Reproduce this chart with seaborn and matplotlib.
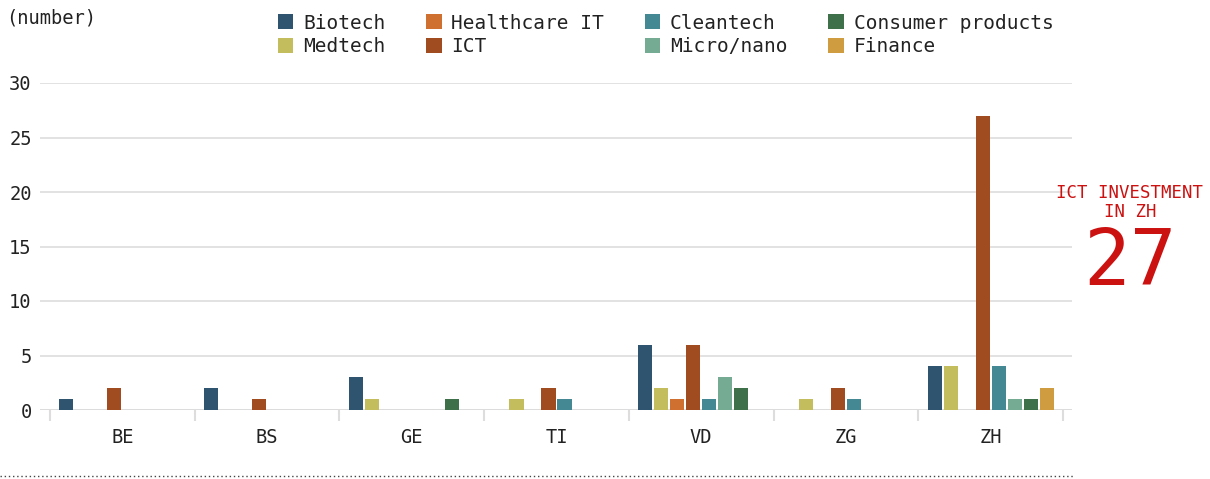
import numpy as np
import pandas as pd
import matplotlib.pyplot as plt
from matplotlib.lines import Line2D
import seaborn as sns

# data
cantons = ["BE", "BS", "GE", "TI", "VD", "ZG", "ZH"]
sectors = ["Biotech", "Medtech", "Healthcare IT", "ICT",
           "Cleantech", "Micro/nano", "Consumer products", "Finance"]
biotech = [1, 2, 3, 0, 6, 0, 4]
medtech = [0, 0, 1, 1, 2, 1, 4]
healthcare_it = [0, 0, 0, 0, 1, 0, 0]
ict = [2, 1, 0, 2, 6, 2, 27]
cleantech = [0, 0, 0, 1, 1, 1, 4]
micro_nano = [0, 0, 0, 0, 3, 0, 1]
consumer = [0, 0, 1, 0, 2, 0, 1]
finance = [0, 0, 0, 0, 0, 0, 2]
colors = ["#2f5470", "#c4bd5e", "#d07030", "#a04c20",
          "#438893", "#74ab92", "#3e704a", "#cf9d40"]

series = [biotech, medtech, healthcare_it, ict, cleantech, micro_nano, consumer, finance]
rows = []
for s, vals in zip(sectors, series):
    for c, v in zip(cantons, vals):
        rows.append({"canton": c, "sector": s, "value": v})
df = pd.DataFrame(rows)

sns.set_style("white")
plt.rcParams['font.family'] = ['DejaVu Sans Mono', 'DejaVu Sans']
plt.rcParams['text.color'] = '#222222'

fig = plt.figure(figsize=(12.1, 4.79), dpi=100)
ax = fig.add_axes([40/1210, 1-410/479, 1032/1210, 327/479])

sns.barplot(data=df, x="canton", y="value", hue="sector", hue_order=sectors,
            order=cantons, palette=colors, width=0.885, gap=0.0,
            saturation=1, linewidth=0, ax=ax)
# narrow each bar a bit to leave the small white gaps
for p in ax.patches:
    w = p.get_width()
    p.set_x(p.get_x() + w*0.06)
    p.set_width(w*0.88)

ppu = 1013/7
ax.set_xlim(-0.5 - 10/ppu, 6.5 + 9/ppu)
ax.set_ylim(0, 30)
ax.set_yticks([0, 5, 10, 15, 20, 25, 30])
ax.yaxis.grid(True, color="#dddddd", lw=1.2)
ax.axhline(0, color="#d8d8d8", lw=2, zorder=0.5)
ax.set_axisbelow(True)
for sp in ax.spines.values():
    sp.set_visible(False)
ax.set_xlabel("")
ax.set_ylabel("")
ax.tick_params(axis="y", length=0, pad=6, labelsize=13.5, labelcolor="#222222")
ax.tick_params(axis="x", which="major", length=0, pad=13, labelsize=13.5, labelcolor="#222222")
ax.set_xticks(np.arange(-0.5, 7, 1), minor=True)
ax.tick_params(axis="x", which="minor", bottom=True, length=8, width=1.5, color="#dddddd")

sns.move_legend(ax, "upper left", bbox_to_anchor=(264/1210, 1.0), bbox_transform=fig.transFigure,
                ncol=4, frameon=False, title=None, fontsize=14,
                handlelength=0.8, handleheight=0.8, handletextpad=0.5,
                columnspacing=2.1, labelspacing=0.25, borderaxespad=0.3)

fig.text(6/1210, 1-18/479, "(number)", fontsize=13.5, va="center", ha="left")
fig.text(1130/1210, 1-193/479, "ICT INVESTMENT", fontsize=12.5, color="#cc1111",
         ha="center", va="center")
fig.text(1130/1210, 1-212/479, "IN ZH", fontsize=12.5, color="#cc1111",
         ha="center", va="center")
fig.text(1130/1210, 1-263/479, "27", fontsize=56, color="#cc1111",
         ha="center", va="center")

fig.add_artist(Line2D([0, 1073/1210], [1-476/479, 1-476/479], transform=fig.transFigure,
                      color="#444444", lw=1, linestyle=(0, (1, 2))))

fig.savefig("out.png", dpi=100)
